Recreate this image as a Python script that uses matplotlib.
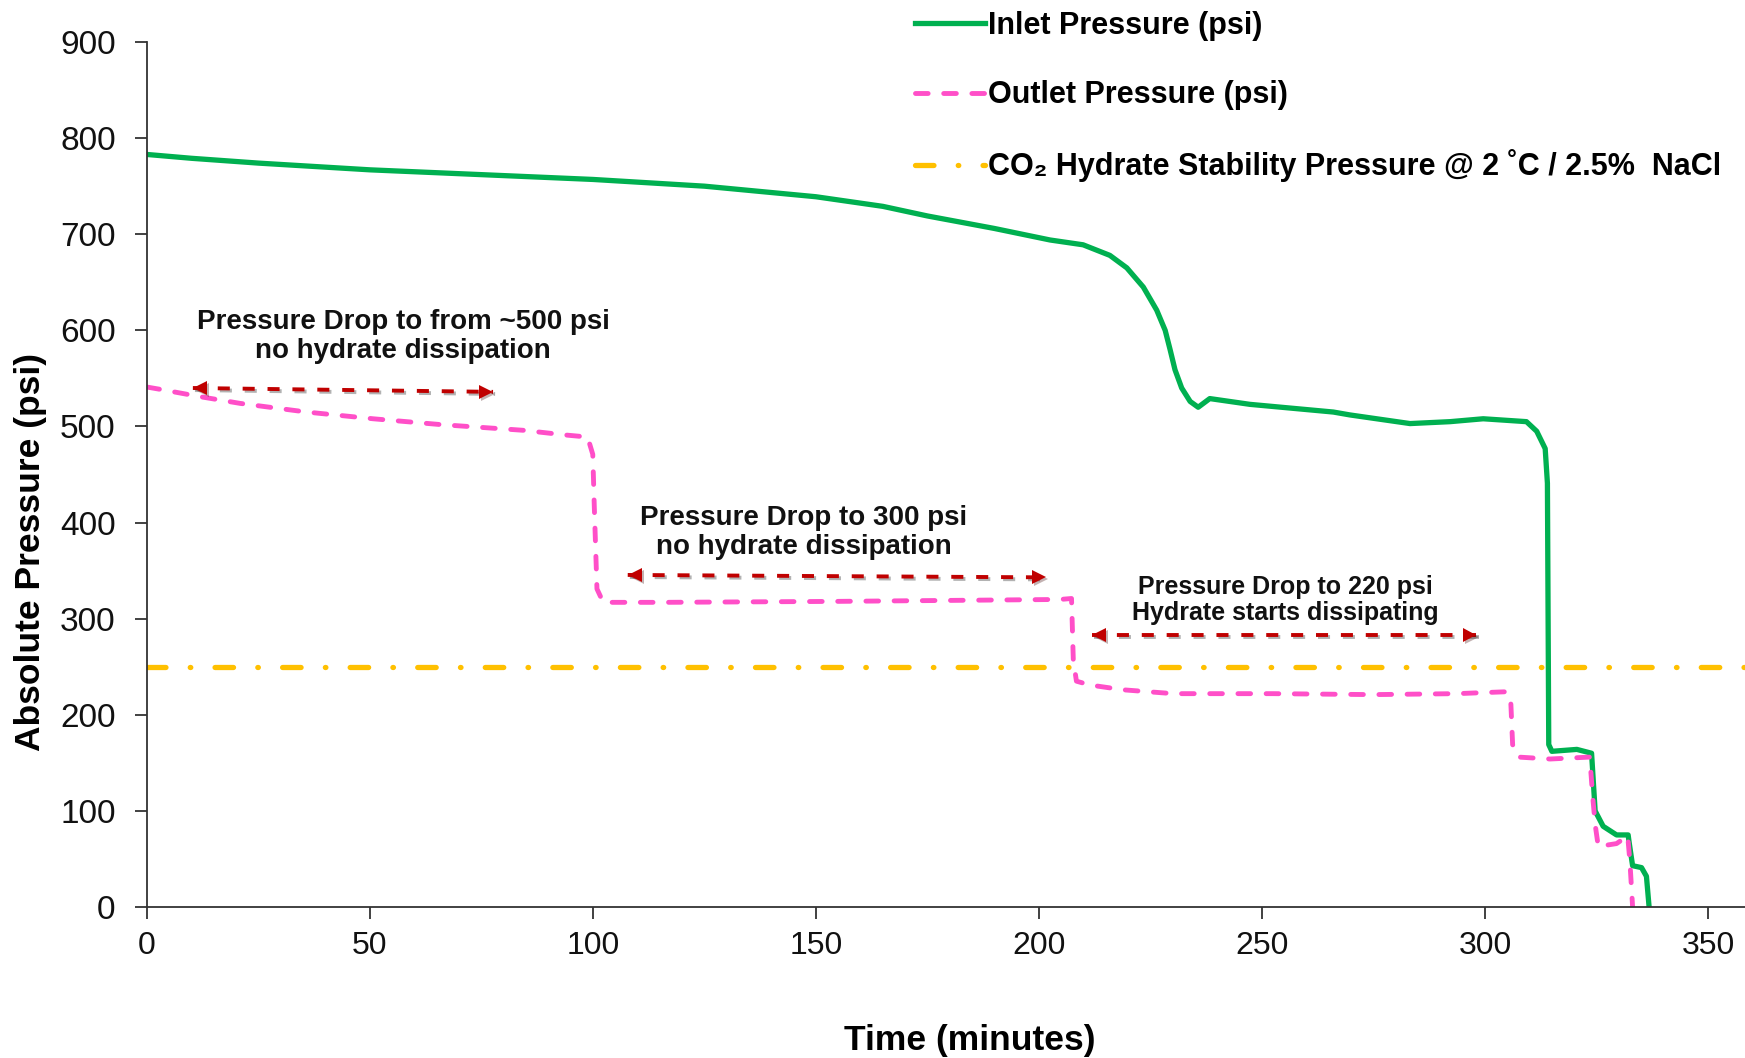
import numpy as np
import matplotlib
matplotlib.use("Agg")
import matplotlib.pyplot as plt
import matplotlib.transforms as mtrans
import matplotlib.patheffects as pe

plt.rcParams['font.family'] = ['Liberation Sans', 'DejaVu Sans']

# inlet pressure (psi) vs time (min)
inlet_t = [0, 10, 25, 50, 75, 100, 125, 150, 165, 175,
           190, 202.5, 209.9, 215.9, 219.7, 223.4, 226.4, 228.3, 229.4, 230.5,
           232.0, 233.9, 235.7, 238.3, 247.3, 266.0, 269.7, 277.2, 283.2, 292.2,
           299.6, 309.3, 311.6, 313.5, 314.0, 314.3, 315.0, 320.6, 323.9, 324.7,
           326.5, 329.5, 332.1, 332.3, 333.1, 335.1, 336.2, 336.8]
inlet_p = [783, 779, 774, 767, 762, 757, 750, 739, 729, 719,
           706, 694, 689, 678, 665, 645, 621, 600, 580, 559,
           540, 526, 520, 529, 523, 515, 512, 507, 503, 505,
           508, 505, 495, 477, 441, 169, 162, 164, 160, 100,
           84, 75, 75, 68, 43, 41, 32, 0]

# outlet pressure (psi)
outlet_t = [0, 2.5, 11.9, 20.9, 35.8, 50.7, 65.7, 84.4, 94.1, 98.8,
            99.96, 100.3, 100.9, 102.3, 115.8, 154.5, 204.7, 207.3, 207.7, 208.4,
            211.4, 218.9, 230.1, 252.5, 274.9, 293.7, 304.9, 305.8, 306.2, 307.5,
            314.6, 323.5, 324.1, 324.7, 325.4, 329.5, 332.0, 332.5, 333.1]
outlet_p = [541, 539, 531, 524, 515, 508, 502, 496, 491, 489,
            471, 417, 331, 317, 317, 318, 320, 321, 257, 235,
            231, 226, 222, 222, 221, 222, 224, 212, 169, 156,
            154, 156, 118, 86, 63, 66, 74, 47, 0]

hydrate_p = 250

x_ticks = np.arange(0, 351, 50)
y_ticks = np.arange(0, 901, 100)

notes = ["Pressure Drop to from ~500 psi\nno hydrate dissipation",
         "Pressure Drop to 300 psi\nno hydrate dissipation",
         "Pressure Drop to 220 psi\nHydrate starts dissipating"]
note_x = [57.4, 147.3, 255.2]
note_y = [593.6, 390, 319.5]
note_size = [20, 20, 18]

arrow_x0 = [10.3, 107.8, 211.9]
arrow_x1 = [77.6, 201.5, 298.1]
arrow_y0 = [540, 345.5, 283]
arrow_y1 = [536, 343, 283]

green = '#00B050'
pink = '#FF4FC8'
gold = '#FFC000'
red = '#C00000'

fig = plt.figure(figsize=(17.45, 10.58), dpi=100)
ax = fig.add_axes([0.0842, 0.1427, 0.9158, 0.8176])

ax.plot(inlet_t, inlet_p, color=green, lw=3.8, solid_joinstyle='round',
        label='Inlet Pressure (psi)')
ax.plot(outlet_t, outlet_p, color=pink, lw=3.5, dashes=(2.6, 3.2),
        dash_capstyle='round', label='Outlet Pressure (psi)')
ax.axhline(hydrate_p, color=gold, lw=3.8, dashes=(3.5, 4.6, 0.1, 4.6),
           dash_capstyle='round',
           label='CO\u2082 Hydrate Stability Pressure @ 2 \u02daC / 2.5%  NaCl')

# double headed dashed arrows
shadow_line = [pe.SimpleLineShadow(offset=(1.5, -1.5), alpha=0.3), pe.Normal()]
shadow_head = [pe.SimplePatchShadow(offset=(1.5, -1.5), alpha=0.3), pe.Normal()]
half = 0.07  # half marker size in inches
for i in range(3):
    ax.plot([arrow_x0[i], arrow_x1[i]], [arrow_y0[i], arrow_y1[i]], color=red,
            lw=2.8, dashes=(3.1, 3.3), path_effects=shadow_line)
    tl = ax.transData + mtrans.ScaledTranslation(half, 0, fig.dpi_scale_trans)
    tr = ax.transData + mtrans.ScaledTranslation(-half, 0, fig.dpi_scale_trans)
    ax.plot([arrow_x0[i]], [arrow_y0[i]], marker='<', ms=10, color=red,
            mew=0, transform=tl, path_effects=shadow_head)
    ax.plot([arrow_x1[i]], [arrow_y1[i]], marker='>', ms=10, color=red,
            mew=0, transform=tr, path_effects=shadow_head)

for i in range(3):
    ax.text(note_x[i], note_y[i], notes[i], ha='center', va='center',
            multialignment='center', fontsize=note_size[i], fontweight='bold',
            linespacing=1.15, color='#111111')

ax.set_xlim(0, 358.3)
ax.set_ylim(0, 900)
ax.set_xticks(x_ticks)
ax.set_yticks(y_ticks)
ax.tick_params(axis='both', direction='out', length=8.5, width=1.3,
               color='#333333', labelcolor='#111111')
ax.tick_params(axis='y', labelsize=24, pad=14)
ax.tick_params(axis='x', labelsize=23, pad=9)
for s in ['top', 'right']:
    ax.spines[s].set_visible(False)
for s in ['left', 'bottom']:
    ax.spines[s].set_linewidth(1.3)
    ax.spines[s].set_color('#333333')

ax.set_xlabel('Time (minutes)', fontsize=25.5, fontweight='bold', va='center')
ax.xaxis.set_label_coords(0.515, -0.154)
ax.set_ylabel('Absolute Pressure (psi)', fontsize=25.5, fontweight='bold', va='center')
ax.yaxis.set_label_coords(-0.0726, 0.41)

fig.legend(loc='upper left', bbox_to_anchor=(0.5244, 0.9895), frameon=False,
           prop={'weight': 'bold', 'size': 22}, handlelength=2.3,
           handletextpad=0.1, labelspacing=1.28, borderpad=0, borderaxespad=0)

fig.savefig('out.png', dpi=100)
